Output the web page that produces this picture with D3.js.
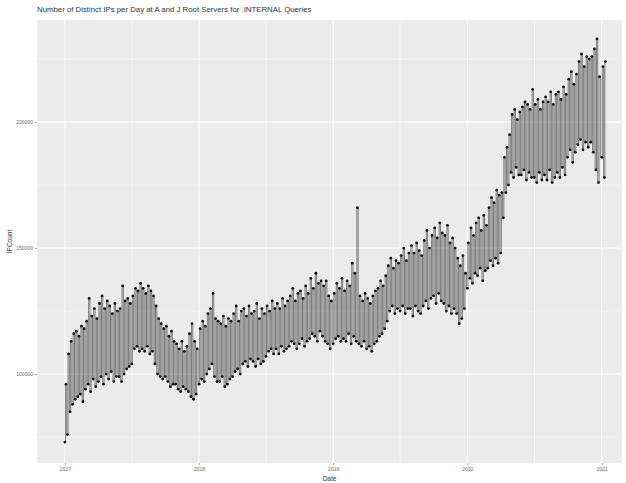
<!DOCTYPE html>
<html>
<head>
<meta charset="utf-8">
<script src="https://cdn.jsdelivr.net/npm/d3@7"></script>
<style>
  body { margin: 0; background: #fff; }
  text { font-family: "Liberation Sans", Arial, sans-serif; }
</style>
</head>
<body>
<svg id="chart" width="626" height="483"></svg>
<script>
// weekly peaks (weekday) and troughs (weekend), in thousands of IPs
const high2017 = [96,108,113,116, 117,115,119,118, 121,130,123,126,122, 128,131,126,129, 127,124,128,125,
  126,135,129,130,128, 131,134,133,136, 134,132,135,133,131, 127,122,120,118, 119,115,117,113,
  112,110,113,109,111, 116,120,113,110];
const low2017 = [73,76,85,88, 90,91,92,89, 94,96,93,98,95, 97,99,96,100, 98,101,97,99,
  99,97,100,102,103, 104,110,111,109, 110,109,111,108,109, 104,100,99,98, 99,97,95,96,
  96,94,93,95,94, 93,91,90,92];

const high2018 = [118,121,119,124, 126,132,122,121, 120,123,119,122,121, 124,127,121,125, 126,123,127,124,
  125,128,122,126,124, 127,125,129,126, 128,126,130,127,129, 131,134,129,132, 133,130,135,132,
  138,134,140,136,137, 135,137,131,129];
const low2018 = [96,98,97,100, 102,104,99,97, 97,99,95,96,98, 99,101,102,100, 104,105,103,106,
  105,103,106,104,105, 107,109,110,108, 110,108,111,109,110, 111,113,112,110, 112,114,111,113,
  114,116,115,113,117, 115,113,112,110];

const high2019 = [132,136,134,138, 133,137,135,144, 140,166,131,129,132, 130,128,131,133, 134,137,135,139,
  143,146,142,145,144, 147,150,145,148, 151,148,152,149,147, 153,157,150,155, 158,154,160,156,
  155,159,152,154,150, 146,143,147,140];
const low2019 = [112,114,115,113, 114,113,116,112, 115,113,112,111,113, 110,111,109,112, 113,115,116,118,
  121,125,127,124,126, 125,127,124,126, 126,123,127,125,124, 127,129,126,130, 131,128,132,129,
  128,125,127,124,126, 124,120,122,126];

const high2020 = [152,158,155,160, 162,157,163,159, 166,170,168,173,171, 172,186,190,195, 203,205,201,204,
  206,208,207,205,213, 207,209,205,208, 210,208,212,207,211, 212,209,214,211, 217,220,215,219,
  224,227,222,226,225, 226,229,233,218];
const low2020 = [134,138,136,140, 139,142,137,141, 142,145,143,146,144, 148,162,172,175, 180,178,182,179,
  179,181,177,180,178, 178,176,180,177, 179,177,181,176,178, 180,178,182,179, 186,189,184,188,
  191,193,189,192,190, 192,188,181,176];

const high2021 = [222, 224];
const low2021 = [186, 178];

const years = [2017, 2018, 2019, 2020, 2021];
const highs = [high2017, high2018, high2019, high2020, high2021];
const lows = [low2017, low2018, low2019, low2020, low2021];

const yTicks = [100000, 150000, 200000];
const yMinor = [75000, 125000, 175000, 225000];
const xTicks = [2017, 2018, 2019, 2020, 2021];

const title = "Number of Distinct IPs per Day at A and J Root Servers for .INTERNAL Queries";

// weekend trough at week start, weekday peak mid-week
let data = [];
years.forEach((yr, k) => {
  highs[k].forEach((h, i) => {
    let start = d3.timeDay.offset(new Date(yr, 0, 1), 7 * i);
    data.push({date: start, count: lows[k][i] * 1000});
    data.push({date: d3.timeDay.offset(start, 3), count: h * 1000});
  });
});

const svg = d3.select("#chart");
const margin = {top: 20, right: 4, bottom: 20, left: 37};
const width = 626, height = 483;

const x = d3.scaleTime()
  .domain([new Date(2016, 9, 17), new Date(2021, 1, 25)])
  .range([margin.left, width - margin.right]);

const y = d3.scaleLinear()
  .domain([64700, 240500])
  .range([height - margin.bottom, margin.top]);

// panel
svg.append("rect")
  .attr("x", margin.left)
  .attr("y", margin.top)
  .attr("width", width - margin.right - margin.left)
  .attr("height", height - margin.bottom - margin.top)
  .attr("fill", "#ebebeb");

let grid = svg.append("g");

// minor grid
grid.selectAll(".ymin").data(yMinor).enter().append("line")
  .attr("x1", margin.left).attr("x2", width - margin.right)
  .attr("y1", d => y(d)).attr("y2", d => y(d))
  .attr("stroke", "#fff").attr("stroke-width", 0.5);

grid.selectAll(".xmin").data(xTicks.slice(0, -1)).enter().append("line")
  .attr("x1", d => x(new Date(d, 6, 2))).attr("x2", d => x(new Date(d, 6, 2)))
  .attr("y1", margin.top).attr("y2", height - margin.bottom)
  .attr("stroke", "#fff").attr("stroke-width", 0.5);

// major grid
grid.selectAll(".ymaj").data(yTicks).enter().append("line")
  .attr("x1", margin.left).attr("x2", width - margin.right)
  .attr("y1", d => y(d)).attr("y2", d => y(d))
  .attr("stroke", "#fff").attr("stroke-width", 1);

grid.selectAll(".xmaj").data(xTicks).enter().append("line")
  .attr("x1", d => x(new Date(d, 0, 1))).attr("x2", d => x(new Date(d, 0, 1)))
  .attr("y1", margin.top).attr("y2", height - margin.bottom)
  .attr("stroke", "#fff").attr("stroke-width", 1);

// line + points (step curve so the weekly drops read as vertical strokes)
const line = d3.line()
  .curve(d3.curveStep)
  .x(d => x(d.date))
  .y(d => y(d.count));

svg.append("path")
  .datum(data)
  .attr("d", line)
  .attr("fill", "none")
  .attr("stroke", "#333")
  .attr("stroke-width", 0.6);

svg.selectAll(".dot")
  .data(data)
  .enter()
  .append("circle")
    .attr("cx", d => x(d.date))
    .attr("cy", d => y(d.count))
    .attr("r", 1.4)
    .attr("fill", "#111");

// axes
let gY = svg.append("g")
  .attr("transform", "translate(" + margin.left + ",0)")
  .call(d3.axisLeft(y).tickValues(yTicks).tickSize(2).tickPadding(2).tickFormat(d3.format("d")));

let gX = svg.append("g")
  .attr("transform", "translate(0," + (height - margin.bottom) + ")")
  .call(d3.axisBottom(x).tickValues(xTicks.map(d => new Date(d, 0, 1))).tickSize(2).tickPadding(2)
    .tickFormat(d3.timeFormat("%Y")));

[gX, gY].forEach(g => {
  g.select(".domain").remove();
  g.selectAll(".tick line").attr("stroke", "#666").attr("stroke-width", 0.6);
  g.selectAll(".tick text").attr("fill", "#666").attr("font-size", "5px")
    .style("font-family", "Liberation Sans, Arial, sans-serif");
});

// titles
svg.append("text")
  .attr("x", margin.left)
  .attr("y", 12)
  .attr("font-size", "7.8px")
  .attr("fill", "#333")
  .text(title);

svg.append("text")
  .attr("x", (margin.left + width - margin.right) / 2)
  .attr("y", 481)
  .attr("text-anchor", "middle")
  .attr("font-size", "6.5px")
  .attr("fill", "#333")
  .text("Date");

svg.append("text")
  .attr("transform", "translate(12," + ((margin.top + height - margin.bottom) / 2) + ") rotate(-90)")
  .attr("text-anchor", "middle")
  .attr("font-size", "6.5px")
  .attr("fill", "#333")
  .text("IPCount");
</script>
</body>
</html>
